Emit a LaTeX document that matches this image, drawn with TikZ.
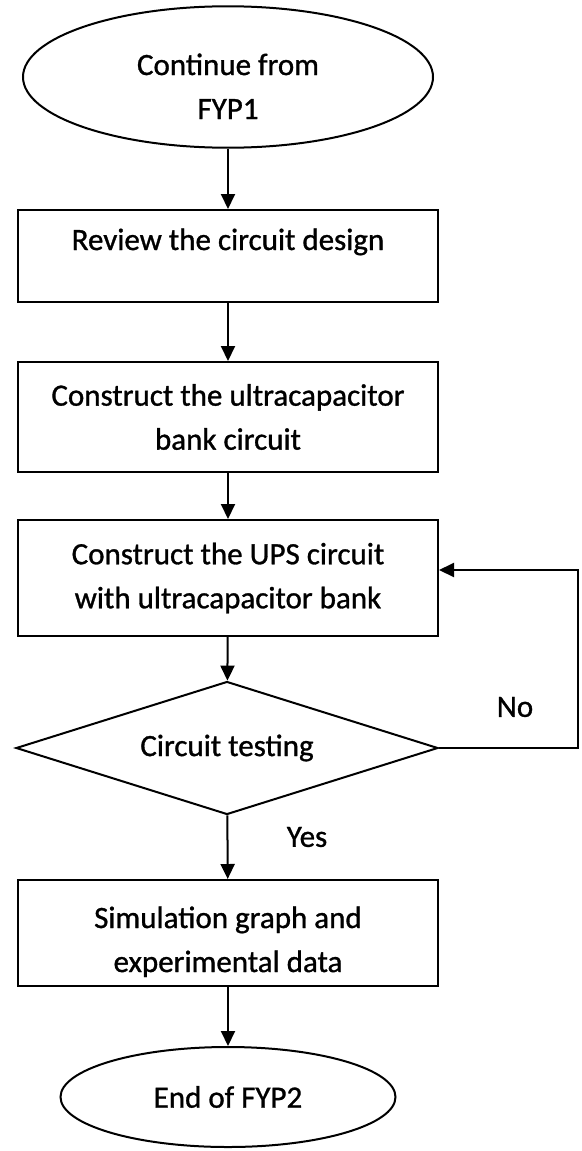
\documentclass[tikz,border=0pt]{standalone}
\usepackage{fontspec}
\setmainfont{Carlito}[FakeBold=1]
\usetikzlibrary{shapes.geometric,arrows.meta}

\begin{document}
\begin{tikzpicture}[x=1pt,y=-1pt,
  every node/.style={font=\fontsize{31}{44}\selectfont, align=center, inner sep=0pt},
  flowline/.style={line width=2pt, draw=black},
  arr/.style={flowline, -{Triangle[length=15pt,width=14pt]}},
  terminal/.style={flowline, draw, ellipse},
  process/.style={flowline, draw, rectangle, minimum width=420pt},
  decision/.style={flowline, draw, diamond, shape aspect=3.2, minimum width=422pt, minimum height=133pt},
  tag/.style={font=\fontsize{31}{44}\selectfont}
]
\useasboundingbox (0,0) rectangle (581,1151);

% terminals and process steps (text height/depth lower some texts inside their frames)
\node[terminal, minimum width=410pt, minimum height=140pt, text height=92pt, text depth=8pt] (start) at (228,77) {Continue from\\FYP1};
\node[process, minimum height=92pt, text height=23pt, text depth=35pt] (review) at (228,256) {Review the circuit design};
\node[process, minimum height=110pt] (bank) at (228,417) {Construct the ultracapacitor\\bank circuit};
\node[process, minimum height=116pt] (ups)  at (228,578) {Construct the UPS circuit\\with ultracapacitor bank};
\node[decision] (test) at (227,748) {Circuit testing};
\node[process, minimum height=106pt, text height=86pt, text depth=8pt] (sim) at (228,933) {Simulation graph and\\experimental data};
\node[terminal, minimum width=335pt, minimum height=100pt] (finish) at (228,1097) {End of FYP2};

% branch labels
\node[tag] (no)  at (515,707) {No};
\node[tag] (yes) at (307,837) {Yes};

% main flow
\draw[arr] (start) -- (review);
\draw[arr] (review) -- (bank);
\draw[arr] (bank) -- (ups);
\draw[arr] (ups) -- (test);
\draw[arr] (test) -- (sim);
\draw[arr] (sim) -- (finish);

% loop back when the test fails
\coordinate (loopR) at (578,748);
\coordinate (loopT) at (578,570);
\draw[arr] (test.east) -- (loopR) -- (loopT) -- (loopT -| ups.east);
\end{tikzpicture}
\end{document}
